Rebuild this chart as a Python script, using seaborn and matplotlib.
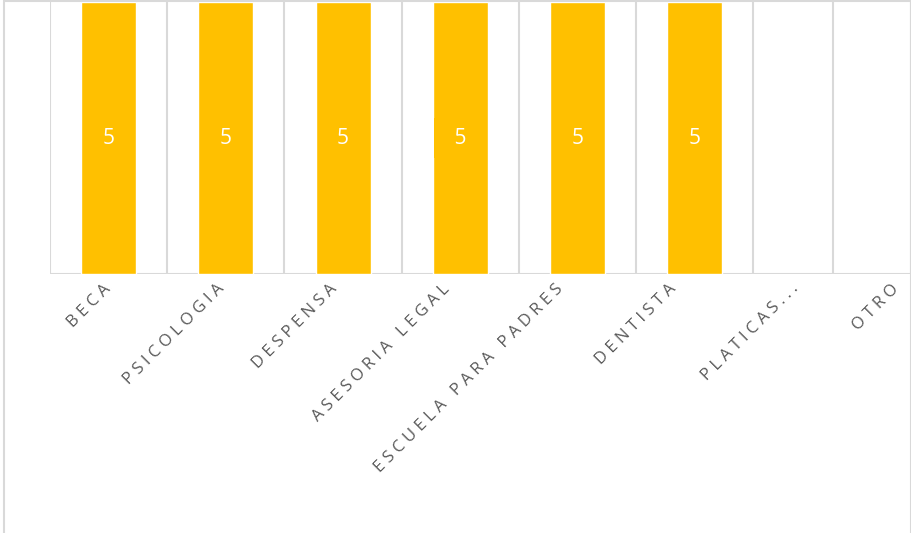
import matplotlib
matplotlib.use("Agg")
import matplotlib.pyplot as plt
from matplotlib.patches import Rectangle
import seaborn as sns
import numpy as np
import pandas as pd

# Data
categories = ["BECA", "PSICOLOGIA", "DESPENSA", "ASESORIA LEGAL",
              "ESCUELA PARA PADRES", "DENTISTA", "PLATICAS...", "OTRO"]
values = [5, 5, 5, 5, 5, 5, np.nan, np.nan]

# Column widths as drawn (last two columns are narrower in the original)
col_widths = [1, 1, 1, 1, 1, 1, 0.68, 0.665]
# where the rotated category labels end, in column units
label_pos = [0.01, 0.975, 1.94, 2.90, 3.865, 4.83, 5.88, 6.73]

BAR_COLOR = "#FFC000"
GRID_COLOR = "#D9D9D9"
TEXT_COLOR = "#595959"

sns.set_style("white")
plt.rcParams['font.family'] = ['Open Sans', 'DejaVu Sans']

fig = plt.figure(figsize=(9.12, 5.33), dpi=100)
ax = fig.add_axes([50 / 912, 1 - 274 / 533, (911 - 50) / 912, (274 - 2) / 533])

df = pd.DataFrame({"categoria": categories, "valor": values})
sns.barplot(data=df, x="categoria", y="valor", color=BAR_COLOR,
            width=0.47, saturation=1, ax=ax)

# column edges
edges = np.concatenate([[-0.5], -0.5 + np.cumsum(col_widths)])

for e in edges:
    ax.axvline(e, color=GRID_COLOR, lw=1.5, zorder=0)
ax.axhline(0, color=GRID_COLOR, lw=1.5, zorder=0)

ax.set_xlim(edges[0], edges[-1])
ax.set_ylim(0, 5)
ax.set_yticks([])
ax.set_xlabel("")
ax.set_ylabel("")
for s in ax.spines.values():
    s.set_visible(False)


def spaced(txt):
    # imitate the wide letter spacing of the original labels
    return "   ".join(" ".join(w) for w in txt.split(" "))


ax.set_xticks(np.array(label_pos) - 0.06)
ax.set_xticklabels([spaced(c) for c in categories], rotation=45, ha="right",
                   va="top", rotation_mode="anchor", color=TEXT_COLOR,
                   fontsize=12)
ax.tick_params(axis="x", length=0, pad=5)

# data labels
for i, v in enumerate(values):
    if np.isnan(v):
        continue
    kw = {}
    txt = f"{int(v)}"
    if categories[i] == "ASESORIA LEGAL":
        txt = "\u2002" + txt + "\u2002"
        kw["bbox"] = dict(boxstyle="square,pad=0.45", fc=BAR_COLOR, ec="none")
    ax.text(i, v / 2, txt, ha="center", va="center",
            color="white", fontsize=15, **kw)

# chart frame
fig.patches.append(Rectangle((4 / 912, -0.1), (911 - 4) / 912, 1.1 - 1.5 / 533,
                             transform=fig.transFigure, fill=False,
                             edgecolor=GRID_COLOR, lw=1.5))

fig.savefig("out.png", dpi=100)
